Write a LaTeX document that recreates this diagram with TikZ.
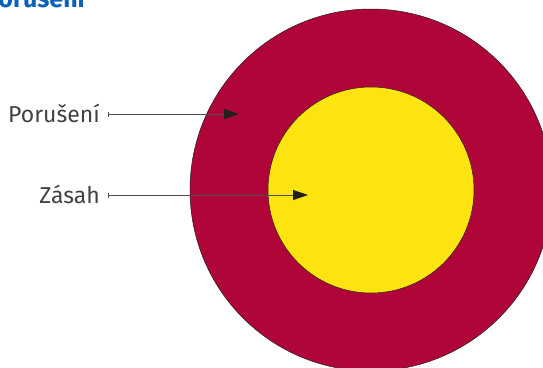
\documentclass[tikz,border=0pt]{standalone}
\usepackage{fontspec}
\setmainfont{Fira Sans}
\usetikzlibrary{arrows.meta}
\definecolor{crim}{HTML}{B00538}
\definecolor{yel}{HTML}{FDE30F}
\definecolor{ttl}{HTML}{0A62B8}
\definecolor{ink}{HTML}{231F20}
\begin{document}
\begin{tikzpicture}[x=1pt,y=-1pt,
  ring/.style={circle,draw=ink,line width=0.5pt,inner sep=0pt},
  lbl/.style={inner sep=0pt,font=\fontsize{23}{26}\selectfont\color{ink!85},anchor=base east},
  pointer/.style={draw=ink!80,line width=0.8pt,{Bar[width=5pt,length=0pt]}-{Triangle[length=15pt,width=10pt,color=ink]}}]
\useasboundingbox (0,0) rectangle (543,367);
\clip (0,0) rectangle (543,367);
\node[ring,fill=crim,minimum size=362pt] (outer) at (371,190) {};
\node[ring,fill=yel,minimum size=206pt] (inner) at (371,190) {};
\node[inner sep=0pt,anchor=base west,font=\fontsize{25}{28}\selectfont\bfseries\color{ttl}] (title) at (-16,7) {Porušení};
\node[lbl] (por) at (100,122) {Porušení};
\node[lbl] (zas) at (100,203) {Zásah};
\coordinate (porS) at (108,114);
\coordinate (porE) at (239,114);
\coordinate (zasS) at (108,195);
\coordinate (zasE) at (308,195);
\draw[pointer] (porS) -- (porE);
\draw[pointer] (zasS) -- (zasE);
\end{tikzpicture}
\end{document}
